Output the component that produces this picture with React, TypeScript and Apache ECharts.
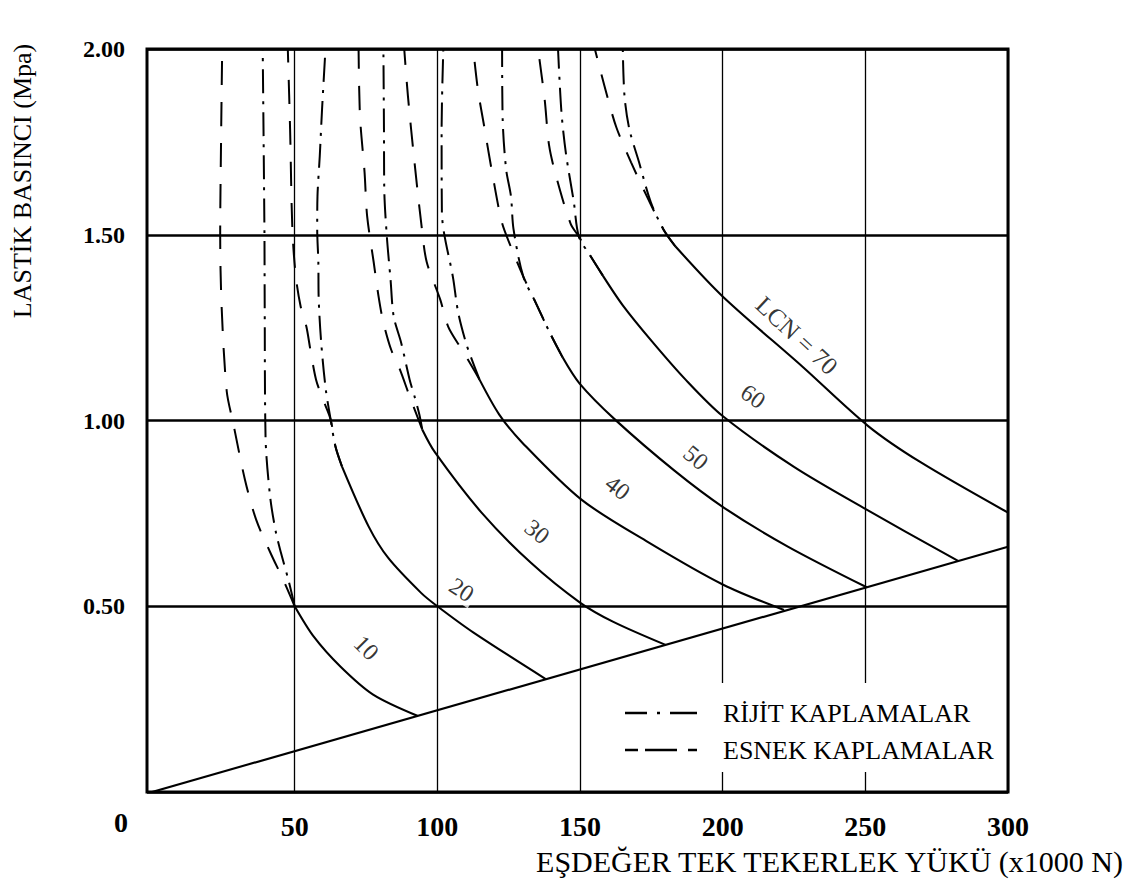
import React, { useEffect, useRef } from 'react';
import * as echarts from 'echarts';

type P = [number, number];

// axis ticks
const xTickValues = [50, 100, 150, 200, 250, 300];
const yTickInterval = 0.5;
const originLabel = '0';

// limiting straight line
const limitLine: P[] = [[0, 0], [300, 0.66]];

// LCN curves: solid part, rigid (dash-dot) branch, flexible (dashed) branch
const lcn10Solid: P[] = [[50, 0.5], [56.7, 0.418], [66.1, 0.337], [77.5, 0.262], [93, 0.205]];
const lcn10Rigid: P[] = [[50, 0.5], [47.8, 0.571], [45.2, 0.644], [43.4, 0.7], [41.4, 0.795], [39.8, 0.954], [39.5, 1.307], [39.4, 1.515], [38.8, 2.0]];
const lcn10Flexible: P[] = [[50, 0.5], [46, 0.571], [41.5, 0.644], [36.5, 0.733], [32.6, 0.84], [28.4, 0.995], [26.2, 1.078], [24.4, 1.307], [23.9, 1.5], [24.2, 1.75], [24.6, 2.0]];

const lcn20Solid: P[] = [[66.6, 0.876], [75.9, 0.715], [82.8, 0.63], [94.3, 0.536], [100, 0.5], [112.7, 0.429], [138, 0.304]];
const lcn20Rigid: P[] = [[66.6, 0.876], [64.3, 0.93], [62.6, 1.003], [60.9, 1.084], [59.3, 1.21], [58.4, 1.334], [58.3, 1.426], [57.9, 1.515], [58, 1.604], [58.8, 1.712], [59.6, 1.838], [60.8, 2.0]];
const lcn20Flexible: P[] = [[66.6, 0.876], [64.3, 0.93], [62.6, 1.003], [59.9, 1.057], [57.5, 1.11], [55.5, 1.191], [54.1, 1.253], [52.1, 1.307], [50.4, 1.388], [49.2, 1.515], [48.4, 1.784], [47.6, 2.0]];

const lcn30Solid: P[] = [[94.7, 0.976], [99.2, 0.914], [115.5, 0.752], [132.8, 0.617], [150, 0.51], [161.7, 0.458], [180, 0.396]];
const lcn30Rigid: P[] = [[94.7, 0.976], [93.7, 1.016], [92, 1.065], [90.3, 1.11], [87.3, 1.21], [84.7, 1.28], [83.6, 1.38], [82.3, 1.496], [81.4, 1.623], [81.3, 1.784], [81.1, 2.0]];
const lcn30Flexible: P[] = [[94.7, 0.976], [90.3, 1.065], [86.9, 1.137], [83.8, 1.191], [81, 1.267], [79.4, 1.334], [77.7, 1.426], [75.4, 1.55], [74.5, 1.668], [72.9, 1.819], [72.4, 2.0]];

const lcn40Solid: P[] = [[114.8, 1.11], [121.7, 1.016], [129.7, 0.941], [150.5, 0.787], [174, 0.672], [200.2, 0.558], [221.5, 0.49]];
const lcn40Rigid: P[] = [[114.8, 1.11], [112.1, 1.164], [110, 1.21], [107.3, 1.291], [105.6, 1.38], [101.6, 1.561], [101.5, 1.784], [102.1, 2.0]];
const lcn40Flexible: P[] = [[114.8, 1.11], [110.7, 1.164], [107.9, 1.199], [103.8, 1.253], [101, 1.326], [96.3, 1.426], [94.6, 1.515], [92, 1.695], [89.7, 1.873], [88.4, 2.0]];

const lcn50Solid: P[] = [[143.9, 1.17], [149.8, 1.1], [162.2, 1.003], [183.1, 0.865], [200.5, 0.765], [223, 0.66], [250.5, 0.551]];
const lcn50Rigid: P[] = [[143.9, 1.17], [139.5, 1.235], [134.3, 1.32], [130.1, 1.388], [126.7, 1.515], [125.8, 1.604], [124.1, 1.677], [122.9, 1.811], [122.7, 2.0]];
const lcn50Flexible: P[] = [[143.9, 1.17], [139.5, 1.235], [134.3, 1.32], [130.1, 1.388], [125.7, 1.469], [122.6, 1.534], [119.2, 1.668], [116.6, 1.784], [114.2, 1.892], [112.6, 2.0]];

const lcn60Solid: P[] = [[158, 1.39], [165, 1.31], [175, 1.215], [187, 1.11], [200, 1.012], [225, 0.875], [250, 0.762], [282.5, 0.622]];
const lcn60Rigid: P[] = [[158, 1.39], [153.5, 1.445], [149.6, 1.495], [147.8, 1.59], [145.1, 1.717], [143.5, 1.83], [142.3, 2.0]];
const lcn60Flexible: P[] = [[158, 1.39], [153.5, 1.445], [149.6, 1.495], [146.7, 1.53], [141.9, 1.65], [139.2, 1.739], [137.6, 1.865], [135.3, 2.0]];

const lcn70Solid: P[] = [[183.4, 1.469], [200, 1.334], [227.8, 1.146], [251, 0.985], [269.5, 0.887], [300, 0.752]];
const lcn70Rigid: P[] = [[183.4, 1.469], [179.2, 1.515], [174.8, 1.588], [170.7, 1.695], [167.3, 1.784], [165.6, 1.873], [165, 2.0]];
const lcn70Flexible: P[] = [[183.4, 1.469], [179.2, 1.515], [173.4, 1.604], [167.9, 1.695], [162.7, 1.79], [158.6, 1.9], [155.2, 2.0]];

const solidCurves = [lcn10Solid, lcn20Solid, lcn30Solid, lcn40Solid, lcn50Solid, lcn60Solid, lcn70Solid];
const rigidCurves = [lcn10Rigid, lcn20Rigid, lcn30Rigid, lcn40Rigid, lcn50Rigid, lcn60Rigid, lcn70Rigid];
const flexibleCurves = [lcn10Flexible, lcn20Flexible, lcn30Flexible, lcn40Flexible, lcn50Flexible, lcn60Flexible, lcn70Flexible];

// curve labels
const curveLabels = ['10', '20', '30', '40', '50', '60', 'LCN = 70'];
const curveLabelX = [75.1, 108.5, 135, 163.2, 190.6, 210.7, 226];
const curveLabelY = [0.388, 0.544, 0.701, 0.819, 0.9, 1.065, 1.229];
const curveLabelAngle = [-45, -33, -38, -38, -40, -35, -43];

const rigidName = 'RİJİT KAPLAMALAR';
const flexibleName = 'ESNEK KAPLAMALAR';
const xTitle = 'EŞDEĞER TEK TEKERLEK YÜKÜ (x1000 N)';
const yTitle = 'LASTİK BASINCI (Mpa)';

const SERIF = '"Liberation Serif", "Times New Roman", serif';
const RIGID_DASH = [24, 8, 3, 8];
const FLEX_DASH = [24, 17];

export default function App() {
  const ref = useRef<HTMLDivElement>(null);

  useEffect(() => {
    if (!ref.current) return;
    const chart = echarts.init(ref.current, undefined, { renderer: 'svg' });

    const series: any[] = [];
    series.push({
      type: 'line',
      name: 'limit',
      data: limitLine,
      showSymbol: false,
      symbol: 'none',
      lineStyle: { color: '#000', width: 2.2 },
      z: 3,
    });
    solidCurves.forEach((d, i) => {
      series.push({
        type: 'line',
        name: 'LCN ' + (i + 1) * 10,
        data: d,
        smooth: 0.3,
        showSymbol: false,
        symbol: 'none',
        lineStyle: { color: '#000', width: 2.1 },
        z: 3,
      });
    });
    rigidCurves.forEach((d) => {
      series.push({
        type: 'line',
        name: rigidName,
        data: d,
        smooth: 0.3,
        showSymbol: false,
        symbol: 'none',
        lineStyle: { color: '#000', width: 2, type: RIGID_DASH },
        z: 3,
      });
    });
    flexibleCurves.forEach((d) => {
      series.push({
        type: 'line',
        name: flexibleName,
        data: d,
        smooth: 0.3,
        showSymbol: false,
        symbol: 'none',
        lineStyle: { color: '#000', width: 2, type: FLEX_DASH },
        z: 3,
      });
    });
    series.push({
      type: 'scatter',
      name: 'labels',
      symbolSize: 0,
      z: 6,
      data: curveLabels.map((t, i) => ({
        value: [curveLabelX[i], curveLabelY[i]],
        label: {
          show: true,
          position: 'inside',
          formatter: t,
          rotate: curveLabelAngle[i],
          fontFamily: SERIF,
          fontSize: t.length > 2 ? 25 : 24,
          color: '#000',
          backgroundColor: t === '20' || t === '60' ? '#fff' : 'transparent',
          padding: [0, 3],
        },
      })),
    });

    const option: any = {
      animation: false,
      backgroundColor: '#fff',
      grid: {
        left: 147,
        right: 131,
        top: 49,
        bottom: 93,
        show: true,
        borderColor: '#000',
        borderWidth: 3,
        backgroundColor: 'transparent',
      },
      xAxis: {
        type: 'value',
        min: -1.75,
        max: 300,
        axisLine: { show: false },
        axisTick: { show: false, customValues: xTickValues },
        splitLine: { show: true, lineStyle: { color: '#000', width: 1.3 } },
        axisLabel: {
          customValues: xTickValues,
          margin: 20,
          fontFamily: SERIF,
          fontWeight: 'bold',
          fontSize: 28,
          color: '#000',
        },
      },
      yAxis: {
        type: 'value',
        min: 0,
        max: 2,
        interval: yTickInterval,
        axisLine: { show: false },
        axisTick: { show: false },
        splitLine: { show: true, lineStyle: { color: '#000', width: 2.6 } },
        axisLabel: {
          margin: 22,
          fontFamily: SERIF,
          fontWeight: 'bold',
          fontSize: 24,
          color: '#000',
          formatter: (v: number) => (v === 0 ? '' : v.toFixed(2)),
        },
      },
      graphic: [
        {
          type: 'text',
          x: 121,
          y: 822,
          style: { text: originLabel, font: `bold 28px ${SERIF}`, fill: '#000', textAlign: 'center', textVerticalAlign: 'middle' },
        },
        {
          type: 'text',
          x: 22,
          y: 181,
          rotation: Math.PI / 2,
          style: { text: yTitle, font: `26px ${SERIF}`, fill: '#000', textAlign: 'center', textVerticalAlign: 'middle' },
        },
        {
          type: 'text',
          x: 1123,
          y: 861,
          style: { text: xTitle, font: `30px ${SERIF}`, fill: '#000', textAlign: 'right', textVerticalAlign: 'middle' },
        },
        {
          type: 'rect',
          z: 100,
          shape: { x: 605, y: 683, width: 398, height: 89 },
          style: { fill: '#fff' },
        },
        {
          type: 'line',
          z: 101,
          shape: { x1: 625, y1: 713, x2: 697, y2: 713 },
          style: { stroke: '#000', lineWidth: 2.5, lineDash: [22, 10, 3, 10, 27] },
        },
        {
          type: 'line',
          z: 101,
          shape: { x1: 625, y1: 750, x2: 697, y2: 750 },
          style: { stroke: '#000', lineWidth: 2.5, lineDash: [13, 7, 32, 11, 9] },
        },
        {
          type: 'text',
          z: 101,
          x: 723,
          y: 713,
          style: { text: rigidName, font: `26px ${SERIF}`, fill: '#000', textVerticalAlign: 'middle' },
        },
        {
          type: 'text',
          z: 101,
          x: 723,
          y: 750,
          style: { text: flexibleName, font: `26px ${SERIF}`, fill: '#000', textVerticalAlign: 'middle' },
        },
      ],
      series,
    };

    chart.setOption(option);
    return () => chart.dispose();
  }, []);

  return <div ref={ref} style={{ width: 1139, height: 885, position: 'absolute', left: 0, top: 0 }} />;
}
